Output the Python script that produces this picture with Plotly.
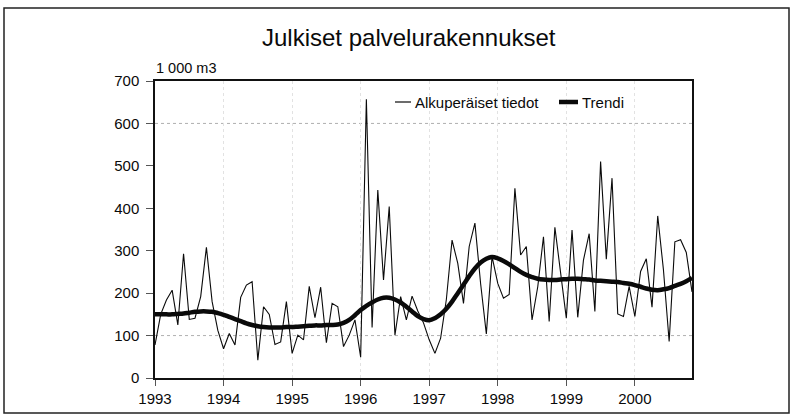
import plotly.graph_objects as go

# ---- data (monthly, Jan 1993 .. Nov 2000), 1 000 m3 ----
years = [1993, 1994, 1995, 1996, 1997, 1998, 1999, 2000]
y_ticks = [0, 100, 200, 300, 400, 500, 600, 700]

original = [
    78, 150, 184, 207, 125, 293, 138, 141, 192, 308, 180, 112,   # 1993
    69, 105, 78, 190, 219, 227, 42, 168, 150, 79, 85, 180,        # 1994
    58, 101, 90, 216, 142, 214, 83, 176, 168, 74, 101, 137,       # 1995
    49, 657, 119, 443, 231, 404, 101, 192, 137, 193, 158, 130,    # 1996
    90, 58, 94, 185, 325, 270, 176, 310, 365, 222, 104, 286,      # 1997
    223, 188, 197, 447, 290, 310, 137, 215, 333, 133, 355, 247,   # 1998
    141, 349, 143, 278, 340, 157, 510, 280, 471, 151, 145, 216,   # 1999
    145, 251, 281, 167, 382, 255, 86, 321, 326, 296, 203,         # 2000
]

trend = [
    150, 150, 150, 150, 151, 152, 154, 156, 157, 157, 156, 153,
    149, 144, 139, 134, 129, 125, 122, 120, 119, 119, 119, 120,
    120, 121, 122, 123, 124, 124, 125, 125, 126, 130, 137, 148,
    160, 170, 178, 185, 189, 189, 185, 178, 168, 157, 146, 139,
    136, 141, 150, 163, 180, 200, 220, 240, 258, 272, 281, 285,
    282, 276, 268, 259, 250, 243, 238, 234, 232, 231, 231, 232,
    233, 234, 234, 233, 232, 230, 229, 228, 227, 226, 224, 222,
    219, 215, 211, 208, 207, 209, 212, 217, 222, 228, 236,
]

months = [1993 + i / 12 for i in range(len(original))]

title_text = "Julkiset palvelurakennukset"
unit_text = "1 000 m3"
legend_names = ["Alkuperäiset tiedot", "Trendi"]
guide_levels = [100, 600]

# ---- layout geometry (pixels) ----
W, H = 794, 420
L, R, T, B = 155, 692, 81, 378
pw, ph = R - L, B - T


def px(x):
    return (x - L) / pw


def py(y):
    return (B - y) / ph


FONT = "Liberation Sans, Arial, Helvetica, sans-serif"
INK = "#0a0a0a"

fig = go.Figure()
fig.add_trace(go.Scatter(x=months, y=original, mode="lines", name=legend_names[0],
                         line=dict(color=INK, width=1.1), showlegend=False))
fig.add_trace(go.Scatter(x=months, y=trend, mode="lines", name=legend_names[1],
                         line=dict(color=INK, width=4.5, shape="spline"), showlegend=False))

shapes = []
# dotted horizontal guide lines (only at 100 and 600, as in the original)
for gy in guide_levels:
    shapes.append(dict(type="line", xref="paper", yref="y", x0=0, x1=1, y0=gy, y1=gy,
                       line=dict(color="#b0b0b0", width=1, dash="dot"), layer="below"))
# outer frame around the whole chart
shapes.append(dict(type="rect", xref="paper", yref="paper",
                   x0=px(4), x1=px(789), y0=py(413), y1=py(8),
                   line=dict(color="#222222", width=1.5)))
# manual legend samples
shapes.append(dict(type="line", xref="paper", yref="paper", x0=px(395), x1=px(411),
                   y0=py(102), y1=py(102), line=dict(color=INK, width=1.2)))
shapes.append(dict(type="line", xref="paper", yref="paper", x0=px(559), x1=px(578),
                   y0=py(102), y1=py(102), line=dict(color=INK, width=4.5)))

annotations = [
    dict(text=title_text, xref="paper", yref="paper", x=px(409), y=py(37),
         xanchor="center", yanchor="middle", showarrow=False,
         font=dict(size=24, color=INK, family=FONT)),
    dict(text=unit_text, xref="paper", yref="paper", x=px(154), y=py(68),
         xanchor="left", yanchor="middle", showarrow=False,
         font=dict(size=14.5, color=INK, family=FONT)),
    dict(text=legend_names[0], xref="paper", yref="paper", x=px(413), y=py(102),
         xanchor="left", yanchor="middle", showarrow=False,
         font=dict(size=15, color=INK, family=FONT)),
    dict(text=legend_names[1], xref="paper", yref="paper", x=px(580), y=py(102),
         xanchor="left", yanchor="middle", showarrow=False,
         font=dict(size=15, color=INK, family=FONT)),
]

fig.update_layout(
    template="none",
    width=W, height=H,
    margin=dict(l=L, r=W - R, t=T, b=H - B, pad=0),
    paper_bgcolor="white", plot_bgcolor="white",
    font=dict(family=FONT, size=15, color=INK),
    showlegend=False,
    shapes=shapes,
    annotations=annotations,
    xaxis=dict(range=[1993, months[-1]], tickmode="array", tickvals=years,
               ticktext=[str(y) for y in years],
               showgrid=True, gridcolor="#e2e2e2", griddash="dot", gridwidth=1,
               ticks="outside", ticklen=6, tickcolor="#555555", tickwidth=1,
               showline=True, linecolor="#111111", linewidth=1.5, mirror=True,
               zeroline=False, tickfont=dict(size=15)),
    yaxis=dict(range=[0, 700], tickmode="array", tickvals=y_ticks,
               ticktext=[str(v) for v in y_ticks],
               showgrid=False, gridcolor="rgba(0,0,0,0)",
               ticks="outside", ticklen=7, tickcolor="#555555", tickwidth=1,
               showline=True, linecolor="#111111", linewidth=1.5, mirror=True,
               zeroline=False, tickfont=dict(size=15), ticklabelstandoff=4),
)

fig.write_html("out.html", config={"displayModeBar": False},
               post_script="document.body.style.margin='0';document.body.style.padding='0';")
